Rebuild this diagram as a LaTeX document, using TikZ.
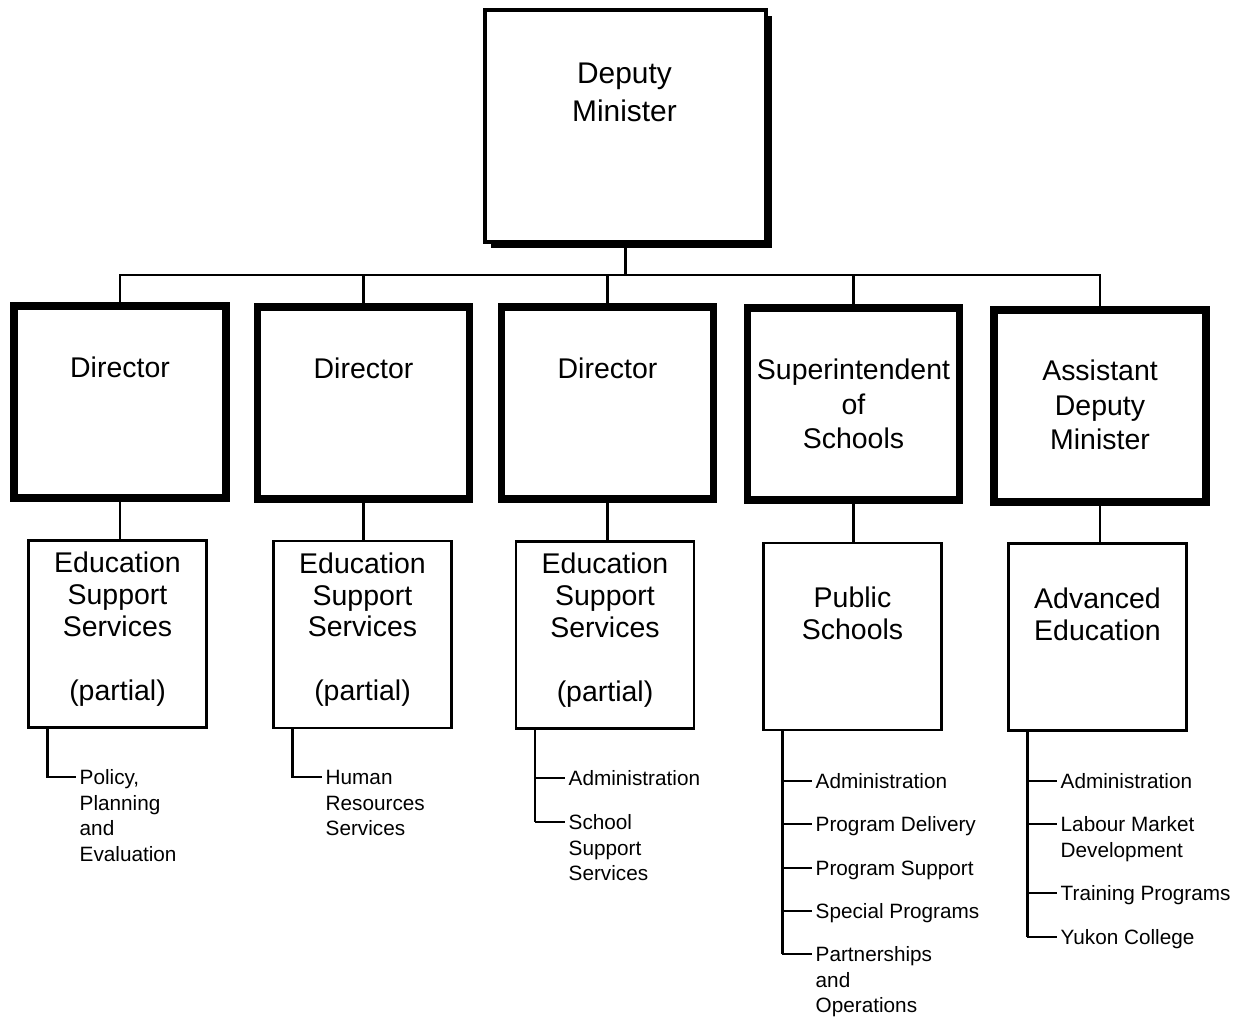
\documentclass[tikz,border=0pt]{standalone}
\usepackage{fontspec}
\setmainfont{Liberation Sans}
\usetikzlibrary{calc,shadows}

\tikzset{
  headbox/.style={draw, line width=0.9pt, fill=white, inner sep=0pt,
    minimum width=28.1mm, minimum height=23.2mm,
    general shadow={fill=black, shadow xshift=0.55mm, shadow yshift=-0.55mm}},
  dirbox/.style={draw, line width=2pt, fill=white, inner sep=0pt,
    minimum width=21.2mm, minimum height=19.2mm},
  unitbox/.style={draw, line width=0.6pt, fill=white, inner sep=0pt,
    minimum width=17.8mm, minimum height=18.7mm},
  bigtext/.style={align=center, anchor=base, inner sep=0pt,
    font=\fontsize{8.1}{9.8}\selectfont},
  unittext/.style={bigtext, font=\fontsize{8.1}{9.1}\selectfont},
  item/.style={align=left, anchor=base west, inner sep=0pt,
    font=\fontsize{5.9}{7.25}\selectfont},
  link/.style={line width=0.6pt},
}

\begin{document}
\begin{tikzpicture}[x=0.1mm,y=-0.1mm]
  \path[use as bounding box] (0,0) rectangle (1240,1018);

  % top (text nodes are placed at the baseline of their last line)
  \node[headbox] (dm) at (625.5,126) {};
  \node[bigtext, font=\fontsize{8.5}{10.8}\selectfont] (dmt) at ($(dm.north)+(-1,113)$) {Deputy\\Minister};

  % second row
  \node[dirbox] (d1) at (120,402) {};
  \node[dirbox] (d2) at (363.5,403) {};
  \node[dirbox] (d3) at (607.5,403) {};
  \node[dirbox] (d4) at (853.5,404) {};
  \node[dirbox] (d5) at (1100,406) {};
  \node[bigtext] (d1t) at ($(d1.north)+(0,75.5)$) {Director};
  \node[bigtext] (d2t) at ($(d2.north)+(0,75.5)$) {Director};
  \node[bigtext] (d3t) at ($(d3.north)+(0,75.5)$) {Director};
  \node[bigtext] (d4t) at ($(d4.north)+(0,144)$) {Superintendent\\of\\Schools};
  \node[bigtext] (d5t) at ($(d5.north)+(0,143)$) {Assistant\\Deputy\\Minister};

  \coordinate (bus) at (622,275);
  \draw[link] (dm.south) -- (dm.south |- bus);
  \draw[link] (d1.north) -- (d1.north |- bus) -- (d5.north |- bus) -- (d5.north);
  \foreach \n in {d2,d3,d4} {
    \draw[link] (\n.north) -- (\n.north |- bus);
  }

  % third row
  \node[unitbox] (e1) at (117.5,634) {};
  \node[unitbox] (e2) at (362.5,634.5) {};
  \node[unitbox] (e3) at (605,635) {};
  \node[unitbox] (e4) at (852.5,636.5) {};
  \node[unitbox] (e5) at (1097.5,637) {};
  \foreach \i in {1,2,3} {
    \node[unittext] (e\i t) at ($(e\i.north)+(0,161)$) {Education\\Support\\Services\\[9.1pt](partial)};
  }
  \node[unittext] (e4t) at ($(e4.north)+(0,98)$) {Public\\Schools};
  \node[unittext] (e5t) at ($(e5.north)+(0,98)$) {Advanced\\Education};

  \foreach \i in {1,...,5} {
    \draw[link] (d\i.south) -- (d\i.south |- e\i.north);
  }

  % sub units
  \coordinate (r1) at ($(e1.south west)+(20,0)$);
  \coordinate (b11) at (76,777);
  \draw[link] (r1) |- (b11);
  \node[item] (t11) at ($(b11)+(3,84)$) {Policy,\\Planning\\and\\Evaluation};

  \coordinate (r2) at ($(e2.south west)+(20,0)$);
  \coordinate (b21) at (322,777);
  \draw[link] (r2) |- (b21);
  \node[item] (t21) at ($(b21)+(3,58.5)$) {Human\\Resources\\Services};

  \coordinate (r3) at ($(e3.south west)+(20,0)$);
  \foreach \y/\n/\t [count=\i] in {778/0/Administration, 822/2/{School\\Support\\Services}} {
    \coordinate (b3\i) at (565,\y);
    \draw[link] (b3\i -| r3) -- (b3\i);
    \node[item] (t3\i) at ($(b3\i)+(3,{7.5+\n*25.5})$) {\t};
  }
  \draw[link] (r3) -- (r3 |- b32);

  \coordinate (r4) at ($(e4.south west)+(20,0)$);
  \foreach \y/\n/\t [count=\i] in {781/0/Administration, 824/0/Program Delivery,
      868/0/Program Support, 911/0/Special Programs, 954/2/{Partnerships\\and\\Operations}} {
    \coordinate (b4\i) at (812,\y);
    \draw[link] (b4\i -| r4) -- (b4\i);
    \node[item] (t4\i) at ($(b4\i)+(3,{7.5+\n*25.5})$) {\t};
  }
  \draw[link] (r4) -- (r4 |- b45);

  \coordinate (r5) at ($(e5.south west)+(20,0)$);
  \foreach \y/\n/\t [count=\i] in {781/0/Administration, 824/1/{Labour Market\\Development},
      893/0/Training Programs, 937/0/Yukon College} {
    \coordinate (b5\i) at (1057,\y);
    \draw[link] (b5\i -| r5) -- (b5\i);
    \node[item] (t5\i) at ($(b5\i)+(3,{7.5+\n*25.5})$) {\t};
  }
  \draw[link] (r5) -- (r5 |- b54);

\end{tikzpicture}
\end{document}
